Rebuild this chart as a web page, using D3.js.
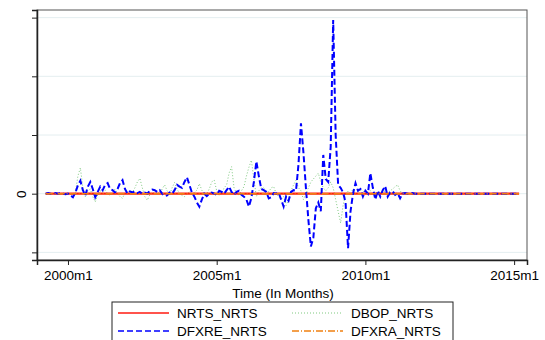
<!DOCTYPE html>
<html>
<head>
<meta charset="utf-8">
<script src="https://cdn.jsdelivr.net/npm/d3@7"></script>
<style>
body { margin: 0; background: #fff; }
#chart { width: 545px; height: 340px; }
text { font-family: "Liberation Sans", Arial, sans-serif; fill: #000; }
</style>
</head>
<body>
<div id="chart"></div>
<script>

// months since 2000m1, first obs 1999m4, last 2015m3
var monthStart = -9, monthEnd = 182;

var xTickValues = [0, 60, 120, 180];
var xTickLabels = ["2000m1", "2005m1", "2010m1", "2015m1"];
var yTickValues = [-1, 0, 1, 2, 3];
var yTickLabels = ["", "0", "", "", ""];

var seriesNames = ["NRTS_NRTS", "DBOP_NRTS", "DFXRE_NRTS", "DFXRA_NRTS"];

var nrts = [
 0,0,0,0,0,0,0,0,0,0, 0,0,0,0,0,0,0,0,0,0, 0,0,0,0,0,0,0,0,0,0, 0,0,0,0,0,0,0,0,0,0,
 0,0,0,0,0,0,0,0,0,0, 0,0,0,0,0,0,0,0,0,0, 0,0,0,0,0,0,0,0,0,0, 0,0,0,0,0,0,0,0,0,0,
 0,0,0,0,0,0,0,0,0,0, 0,0,0,0,0,0,0,0,0,0, 0,0,0,0,0,0,0,0,0,0, 0,0,0,0,0,0,0,0,0,0,
 0,0,0,0,0,0,0,0,0,0, 0,0,0,0,0,0,0,0,0,0, 0,0,0,0,0,0,0,0,0,0, 0,0,0,0,0,0,0,0,0,0,
 0,0,0,0,0,0,0,0,0,0, 0,0,0,0,0,0,0,0,0,0, 0,0,0,0,0,0,0,0,0,0, 0,0,0,0,0,0,0,0,0,0,
 0,0,0,0,0,0,0,0,0,0, 0,0,0,0,0,0,0,0,0,0, 0,0,0,0,0,0,0,0,0,0, 0,0,0,0,0,0,0,0,0,0,
 0,0,0,0,0,0,0,0,0,0, 0,0,0,0,0,0,0,0,0,0, 0,0,0,0,0,0,0,0,0,0, 0,0,0,0,0,0,0,0,0,0,
 0,0,0,0,0,0,0,0,0,0, 0,0,0,0,0,0,0,0,0,0, 0,0,0,0,0,0,0,0,0,0, 0,0,0,0,0,0,0,0,0,0,
 0,0,0,0,0,0,0,0,0,0, 0,0,0,0,0,0,0,0,0,0, 0,0,0,0,0,0,0,0,0,0, 0,0,0,0,0,0,0,0,0,0,
 0,0,0,0,0,0,0,0,0,0, 0,0,0,0,0,0,0,0,0,0, 0,0,0,0,0,0,0,0,0,0, 0,0,0,0,0,0,0,0,0,0,
 0,0,0,0,0,0,0,0,0,0, 0,0,0,0,0,0,0,0,0,0, 0,0,0,0,0,0,0,0,0,0, 0,0,0,0,0,0,0,0,0,0,
 0,0,0,0,0,0,0,0,0,0, 0,0,0,0,0,0,0,0,0,0, 0,0,0,0,0,0,0,0,0,0, 0,0,0,0,0,0,0,0,0,0
].slice(0, 192);

var dbop = [
 0, 0, 0, 0, 0, 0, 0, 0, 0, 0,
 0, 0, 0.02, 0.3, 0.44, 0.1, -0.05, 0.05, 0.08, -0.05,
 -0.14, -0.02, 0.05, 0.02, 0.06, 0.0, -0.03, 0.02, 0.08, 0.0,
 -0.05, -0.08, 0.02, 0.04, 0.0, 0.02, 0.1, 0.2, 0.26, 0.1,
 -0.05, -0.11, -0.02, 0.03, 0.0, 0.02, 0.0, 0.08, 0.15, 0.05,
 -0.02, 0.1, 0.19, 0.08, 0.0, -0.03, -0.05, 0.0, 0.03, 0.0,
 0.02, 0.06, 0.17, 0.06, -0.02, 0.0, 0.08, 0.2, 0.23, 0.05,
 -0.03, 0.0, 0.1, 0.15, 0.35, 0.46, 0.1, 0.0, -0.02, 0.05,
 0.12, 0.3, 0.45, 0.57, 0.25, -0.05, 0.05, 0.1, 0.1, 0.05,
 0.03, 0.1, 0.12, 0.0, -0.05, -0.1, -0.05, -0.2, -0.1, 0.05,
 0.15, 0.23, 0.1, 0.05, -0.1, 0.0, 0.1, 0.2, 0.25, 0.3,
 0.35, 0.2, 0.1, 0.05, 0.1, 0.2, 0.1, -0.1, -0.3, -0.5,
 -0.2, 0.0, 0.05, 0.0, 0.08, -0.02, 0.03, 0.06, 0.05, 0.0,
 0.03, 0.05, -0.02, 0.0, 0.03, 0.02, 0.05, 0.04, 0.01, 0.05,
 0.08, 0.12, 0.15, 0.05, 0.0, 0, 0, 0, 0, 0,
 0, 0, 0, 0, 0, 0, 0, 0, 0, 0,
 0, 0, 0, 0, 0, 0, 0, 0, 0, 0,
 0, 0, 0, 0, 0, 0, 0, 0, 0, 0,
 0, 0, 0, 0, 0, 0, 0, 0, 0, 0,
 0, 0
];

var dfxre = [
 0, 0.01, 0, -0.01, 0.01, 0, 0.01, 0, -0.01, 0,
 -0.03, -0.06, 0.02, 0.14, 0.22, 0.06, -0.03, 0.12, 0.2, 0.08,
 -0.06, 0.03, 0.12, 0.06, 0.15, 0.18, 0.08, 0.06, 0.02, 0.08,
 0.18, 0.23, 0.08, 0.0, 0.04, 0.02, 0.04, 0.01, 0.03, 0.0,
 0.02, 0.0, 0.05, 0.07, 0.06, 0.03, 0.06, 0.0, -0.04, -0.03,
 0.02, 0.0, 0.06, 0.15, 0.12, 0.1, 0.2, 0.28, 0.15, 0.02,
 -0.05, -0.15, -0.22, -0.1, 0.0, -0.04, 0.0, 0.02, 0.0, -0.02,
 0.05, 0.03, 0.0, 0.06, 0.12, 0.03, -0.02, 0.03, 0.05, -0.02,
 -0.05, -0.1, -0.22, -0.07, 0.2, 0.55, 0.3, 0.08, 0.06, 0.03,
 -0.08, -0.06, 0.01, 0.0, 0.02, -0.1, -0.22, -0.05, -0.12, 0.03,
 0.06, 0.05, 0.5, 1.2, 0.7, 0.1, -0.45, -0.9, -0.75, -0.25,
 -0.15, -0.3, 0.66, 0.25, 0.2, 0.8, 2.96, 1.0, 0.15, 0.1,
 0.02, -0.15, -0.93, -0.3, 0.0, 0.18, 0.05, 0.08, -0.05, 0.05,
 0.0, 0.35, 0.1, -0.1, 0.05, -0.05, 0.06, 0.13, -0.05, 0.02,
 0.04, -0.02, 0.01, -0.08, 0.0, 0.01, 0, 0, 0.01, 0,
 0, 0, 0, 0, 0, 0, 0, 0, 0, 0,
 0, 0, 0, 0, 0, 0, 0, 0, 0, 0,
 0, 0, 0, 0, 0, 0, 0, 0, 0, 0,
 0, 0, 0, 0, 0, 0, 0, 0, 0, 0,
 0, 0
];

var dfxra = nrts.slice();

function Chart(){
    var self = this;
    self.init();
};

Chart.prototype.init = function(){
    var self = this;
    self.svgWidth = 545;
    self.svgHeight = 340;
    self.plot = {left: 37, right: 527, top: 10, bottom: 260};

    self.svg = d3.select("#chart").append("svg")
        .attr("width", self.svgWidth)
        .attr("height", self.svgHeight);

    self.xScale = d3.scaleLinear()
        .domain([-12.5, 185.2])
        .range([self.plot.left, self.plot.right]);

    self.yScale = d3.scaleLinear()
        .domain([-1.13, 3.13])
        .range([self.plot.bottom, self.plot.top]);
};

Chart.prototype.update = function(){
    var self = this;
    var months = d3.range(monthStart, monthEnd + 1);

    // grid lines
    self.svg.append("g").selectAll("line")
        .data(yTickValues)
        .enter().append("line")
        .attr("x1", self.plot.left).attr("x2", self.plot.right)
        .attr("y1", function(d){ return self.yScale(d); })
        .attr("y2", function(d){ return self.yScale(d); })
        .attr("stroke", "#e4eef0")
        .attr("stroke-width", 1);

    // frame
    self.svg.append("rect")
        .attr("x", self.plot.left).attr("y", self.plot.top)
        .attr("width", self.plot.right - self.plot.left)
        .attr("height", self.plot.bottom - self.plot.top)
        .attr("fill", "none")
        .attr("stroke", "#555")
        .attr("stroke-width", 1);

    var series = [
        {name: seriesNames[1], values: dbop, color: "#7fc97f", width: 1, dash: "1,2"},
        {name: seriesNames[0], values: nrts, color: "#ff1a10", width: 2.2, dash: null},
        {name: seriesNames[2], values: dfxre, color: "#0000ff", width: 2, dash: "6,3"},
        {name: seriesNames[3], values: dfxra, color: "#f08010", width: 1.6, dash: "7,2,1,2"}
    ];

    var line = d3.line()
        .x(function(d){ return self.xScale(d.m); })
        .y(function(d){ return self.yScale(d.v); });

    series.forEach(function(s){
        var pts = months.map(function(m, i){ return {m: m, v: s.values[i]}; });
        self.svg.append("path")
            .datum(pts)
            .attr("d", line)
            .attr("fill", "none")
            .attr("stroke", s.color)
            .attr("stroke-width", s.width)
            .attr("stroke-dasharray", s.dash);
    });

    // axes
    var xAxis = d3.axisBottom(self.xScale)
        .tickValues(xTickValues)
        .tickSize(5)
        .tickPadding(5)
        .tickFormat(function(d, i){ return xTickLabels[i]; });

    var gx = self.svg.append("g")
        .attr("transform", "translate(0," + self.plot.bottom + ")")
        .call(xAxis);
    gx.select(".domain").attr("stroke", "#222").attr("stroke-width", 1.5);
    gx.selectAll(".tick line").attr("stroke", "#222");
    gx.selectAll("text").style("font-size", "13.5px").style("font-family", "Liberation Sans, Arial");

    var yAxis = d3.axisLeft(self.yScale)
        .tickValues(yTickValues)
        .tickSize(5)
        .tickFormat(function(d, i){ return yTickLabels[i]; });

    var gy = self.svg.append("g")
        .attr("transform", "translate(" + self.plot.left + ",0)")
        .call(yAxis);
    gy.select(".domain").attr("stroke", "#222").attr("stroke-width", 1.5);
    gy.selectAll(".tick line").attr("stroke", "#222");
    gy.selectAll("text")
        .style("font-size", "13.5px")
        .style("font-family", "Liberation Sans, Arial")
        .attr("text-anchor", "middle")
        .attr("x", 0).attr("dy", 0)
        .attr("transform", "translate(-11,0) rotate(-90)")
        .attr("y", 0);

    self.svg.append("text")
        .attr("x", 283)
        .attr("y", 297.5)
        .attr("text-anchor", "middle")
        .style("font-size", "13.5px")
        .text("Time (In Months)");

    // legend
    var legend = self.svg.append("g").attr("class", "legend");
    legend.append("rect")
        .attr("x", 112).attr("y", 302)
        .attr("width", 341).attr("height", 50)
        .attr("fill", "#fff")
        .attr("stroke", "#222")
        .attr("stroke-width", 1);

    var legendOrder = [series[1], series[0], series[2], series[3]];
    legendOrder.forEach(function(s, i){
        var col = i % 2, row = Math.floor(i / 2);
        var x0 = col == 0 ? 118 : 292;
        var y0 = row == 0 ? 313 : 331;
        legend.append("line")
            .attr("x1", x0).attr("x2", x0 + 51)
            .attr("y1", y0).attr("y2", y0)
            .attr("stroke", s.color)
            .attr("stroke-width", s.name == "DBOP_NRTS" ? 1 : 1.6)
            .attr("stroke-dasharray", s.dash);
        legend.append("text")
            .attr("x", x0 + 59)
            .attr("y", y0 + 5)
            .style("font-size", "13.5px")
            .text(s.name);
    });
};

var chart = new Chart();
chart.update();
</script>
</body>
</html>
